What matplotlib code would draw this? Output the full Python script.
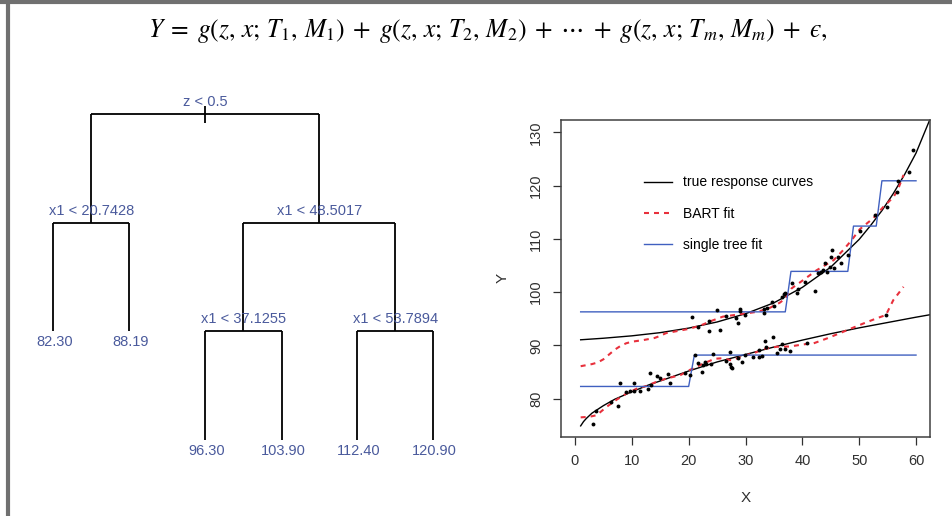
import matplotlib.pyplot as plt
from matplotlib.lines import Line2D

plt.rcParams["font.family"] = ["Liberation Sans", "DejaVu Sans"]
plt.rcParams["mathtext.fontset"] = "stix"

# simulated data
lower_x = [3.1, 3.7, 6.3, 7.5, 7.9, 9.0, 9.6, 10.4, 10.4, 11.4, 12.9, 13.2, 13.4,
           14.5, 15.0, 16.4, 16.7, 19.4, 20.2, 21.2, 21.7, 22.3, 22.5, 22.8, 23.1,
           24.0, 24.2, 26.6, 27.3, 27.3, 27.4, 27.7, 28.7, 29.3, 29.9, 31.4, 32.3,
           32.9, 32.3, 33.4, 33.6, 34.9, 35.6, 36.1, 36.5, 37.0, 37.8, 40.9, 54.7]
lower_y = [75.3, 77.6, 79.3, 78.6, 82.9, 81.3, 81.4, 82.9, 81.5, 81.5, 81.8, 84.9, 82.6,
           84.3, 83.9, 84.7, 82.9, 84.9, 84.4, 88.2, 86.7, 85.1, 86.4, 86.8, 86.5,
           86.6, 88.3, 87.1, 88.7, 86.6, 86.0, 85.7, 87.6, 86.9, 88.2, 87.8, 87.9,
           88.0, 89.1, 90.8, 89.7, 91.5, 88.6, 89.3, 90.2, 89.4, 89.0, 90.4, 95.7]
upper_x = [20.6, 21.7, 23.5, 23.6, 25.0, 25.6, 26.6, 28.4, 28.6, 29.0, 29.1, 29.9,
           33.3, 33.3, 33.8, 34.6, 35.0, 36.4, 36.7, 36.9, 38.1, 39.1, 39.3, 40.5,
           42.2, 42.8, 43.2, 43.7, 44.0, 44.4, 44.8, 45.0, 45.3, 45.5, 46.3, 46.75,
           48.1, 50.2, 52.8, 54.85, 56.7, 56.9, 58.8, 59.5]
upper_y = [95.3, 93.4, 94.6, 92.7, 96.6, 92.9, 95.5, 95.1, 94.3, 96.8, 96.4, 95.8,
           96.8, 96.1, 97.1, 98.1, 97.4, 99.1, 99.6, 99.9, 101.8, 99.9, 100.6, 101.9,
           100.25, 103.6, 103.8, 104.1, 105.4, 103.7, 104.7, 106.6, 107.9, 104.5, 106.6, 105.4,
           106.9, 111.5, 114.4, 116.0, 118.8, 120.8, 122.6, 126.6]

# true response curves
true_up_x = [1, 5, 10, 15, 20, 25, 30, 35, 40, 45, 50, 52, 54, 56, 58, 60, 62.4]
true_up_y = [91.06, 91.35, 91.8, 92.4, 93.25, 94.4, 95.95, 98.0, 100.9, 104.7, 109.9,
             112.5, 115.3, 118.5, 122.1, 126.1, 132.3]
true_lo_x = [1, 1.5, 2, 3, 4, 5, 7, 10, 13, 16, 20, 25, 30, 35, 40, 45, 50, 55, 60, 62.4]
true_lo_y = [74.9, 75.7, 76.3, 77.3, 78.0, 78.7, 79.9, 81.3, 82.6, 83.7, 85.2, 86.9,
             88.3, 89.7, 91.0, 92.2, 93.3, 94.3, 95.3, 95.75]

# BART fit
bart_up_x = [1, 2, 3, 4, 5, 6, 7, 8, 9, 10, 12, 14, 15, 16, 18, 20, 22, 24, 26, 28,
             30, 32, 34, 36, 37, 38.1, 40.2, 42.5, 45.5, 47.2, 48.7, 50.1, 52.5,
             54.25, 56.0, 56.8, 57.3, 57.8]
bart_up_y = [86.1, 86.3, 86.5, 86.8, 87.4, 88.3, 89.2, 89.9, 90.4, 90.7, 91.0, 91.4,
             91.8, 92.3, 92.7, 93.1, 93.7, 94.6, 95.4, 95.7, 96.0, 96.3, 96.9, 98.0,
             98.8, 100.7, 102.3, 104.1, 106.0, 107.9, 109.8, 111.8, 113.9, 116.0,
             117.8, 119.2, 120.6, 122.0]
bart_lo_x = [1, 2.5, 3.8, 5.6, 7.3, 9.1, 10.9, 12.6, 14.4, 16.1, 18.5, 20.2, 22.6,
             24.6, 26.0, 27.5, 29.6, 31.8, 33.5, 35.5, 37.8, 40.2, 42.0, 44.3, 46.6,
             48.4, 50.7, 53.1, 54.7, 56.0, 57.8]
bart_lo_y = [76.5, 76.6, 76.9, 78.5, 79.8, 81.0, 81.9, 82.4, 83.2, 83.8, 84.4, 85.4,
             86.6, 87.5, 87.6, 87.2, 88.0, 88.7, 89.4, 89.75, 89.8, 90.2, 90.4, 91.3,
             92.3, 93.1, 94.1, 95.1, 95.7, 98.5, 101.0]

# single tree fit (evaluated on the 1..60 grid)
tree_up_x = [1, 37, 38, 48, 49, 53, 54, 60]
tree_up_y = [96.30, 96.30, 103.90, 103.90, 112.40, 112.40, 120.90, 120.90]
tree_lo_x = [1, 20, 21, 60]
tree_lo_y = [82.30, 82.30, 88.19, 88.19]

x_ticks = [0, 10, 20, 30, 40, 50, 60]
y_ticks = [80, 90, 100, 110, 120, 130]

# tree: split labels and leaf values
split_labels = ["z < 0.5", "x1 < 20.7428", "x1 < 48.5017", "x1 < 37.1255", "x1 < 53.7894"]
leaf_labels = ["82.30", "88.19", "96.30", "103.90", "112.40", "120.90"]

TREE_BLUE = "#4a5a9c"
BLUE = "#4060c0"
RED = "#e8303c"


def draw_tree(ax):
    leaf_x = [53.3, 129.3, 205.3, 281.7, 357.3, 433.0]
    leaf_bottom = [331, 331, 440, 440, 440, 440]
    n20 = (leaf_x[0] + leaf_x[1]) / 2
    n37 = (leaf_x[2] + leaf_x[3]) / 2
    n53 = (leaf_x[4] + leaf_x[5]) / 2
    n48 = (n37 + n53) / 2
    root = (n20 + n48) / 2
    # (x_left, x_right, y_bar, label_x) for each split
    splits = [
        (n20, n48, 114, root),
        (leaf_x[0], leaf_x[1], 222.7, n20),
        (n37, n53, 222.7, n48),
        (leaf_x[2], leaf_x[3], 331, n37),
        (leaf_x[4], leaf_x[5], 331, n53),
    ]
    kw = dict(color="black", lw=1.3, solid_capstyle="butt")
    # root stub
    ax.plot([root, root], [106, 123], **kw)
    for (xl, xr, yb, xc), label in zip(splits, split_labels):
        ax.plot([xl, xr], [yb, yb], **kw)
        ax.text(xc, yb - 5, label, ha="center", va="bottom", fontsize=10.5, color=TREE_BLUE)
    links = [
        (n20, 114, 222.7), (n48, 114, 222.7),
        (n37, 222.7, 331), (n53, 222.7, 331),
    ]
    for x, y0, y1 in links:
        ax.plot([x, x], [y0, y1], **kw)
    for i, (x, yb) in enumerate(zip(leaf_x, leaf_bottom)):
        y_top = 222.7 if i < 2 else 331
        ax.plot([x, x], [y_top, yb], **kw)
        ax.text(x + 1.5, yb + 11, leaf_labels[i], ha="center", va="center",
                fontsize=10.5, color=TREE_BLUE)


def main():
    fig = plt.figure(figsize=(9.53, 5.16), dpi=100)

    # background axes in pixel units for the tree and the frame
    bg = fig.add_axes([0, 0, 1, 1])
    bg.set_xlim(0, 953)
    bg.set_ylim(516, 0)
    bg.axis("off")
    draw_tree(bg)
    bg.add_line(Line2D([0, 953], [1.5, 1.5], color="#707070", lw=3))
    bg.add_line(Line2D([8.5, 8.5], [0, 516], color="#707070", lw=3))

    formula = (r"$Y\; =\; g(z,\, x;\, T_1,\, M_1)\; +\; g(z,\, x;\, T_2,\, M_2)\; +\; \cdots"
               r"\; +\; g(z,\, x;\, T_m,\, M_m)\; +\; " + "\u03f5" + r",$")
    fig.text(488 / 953, 1 - 31 / 516, formula, ha="center", va="center", fontsize=18.4)

    ax = fig.add_axes([561 / 953, 1 - 436.7 / 516, 369 / 953, 316.7 / 516])
    ax.plot(true_up_x, true_up_y, color="black", lw=1.0, label="true response curves")
    ax.plot(true_lo_x, true_lo_y, color="black", lw=1.0)
    ax.plot(bart_up_x, bart_up_y, color=RED, lw=1.5, dashes=(2.4, 2.4), label="BART fit")
    ax.plot(bart_lo_x, bart_lo_y, color=RED, lw=1.5, dashes=(2.4, 2.4))
    ax.plot(tree_up_x, tree_up_y, color=BLUE, lw=1.0, label="single tree fit")
    ax.plot(tree_lo_x, tree_lo_y, color=BLUE, lw=1.0)
    ax.plot(upper_x, upper_y, "o", color="black", ms=2.8, mew=0)
    ax.plot(lower_x, lower_y, "o", color="black", ms=2.8, mew=0)

    ax.set_xlim(-2.46, 62.46)
    ax.set_ylim(72.87, 132.31)
    ax.set_xticks(x_ticks)
    ax.set_yticks(y_ticks)
    ax.tick_params(direction="out", length=5.8, width=0.9, pad=7, labelsize=10.5,
                   color="#303030", labelcolor="#303030")
    for lab in ax.get_yticklabels():
        lab.set_rotation(90)
        lab.set_va("center")
    for sp in ax.spines.values():
        sp.set_color("#404040")
        sp.set_linewidth(1.1)

    ax.set_xlabel("X", fontsize=11, color="#303030")
    ax.set_ylabel("Y", fontsize=11, color="#303030")
    ax.xaxis.set_label_coords(0.5, -0.17)
    ax.yaxis.set_label_coords(-0.14, 0.5)

    ax.legend(loc="upper left", bbox_to_anchor=(0.225, 0.825), frameon=False,
              handlelength=2.0, handletextpad=0.8, labelspacing=1.25,
              borderpad=0, borderaxespad=0, fontsize=10)

    fig.savefig("out.png", dpi=100)
    plt.close(fig)


if __name__ == "__main__":
    main()
